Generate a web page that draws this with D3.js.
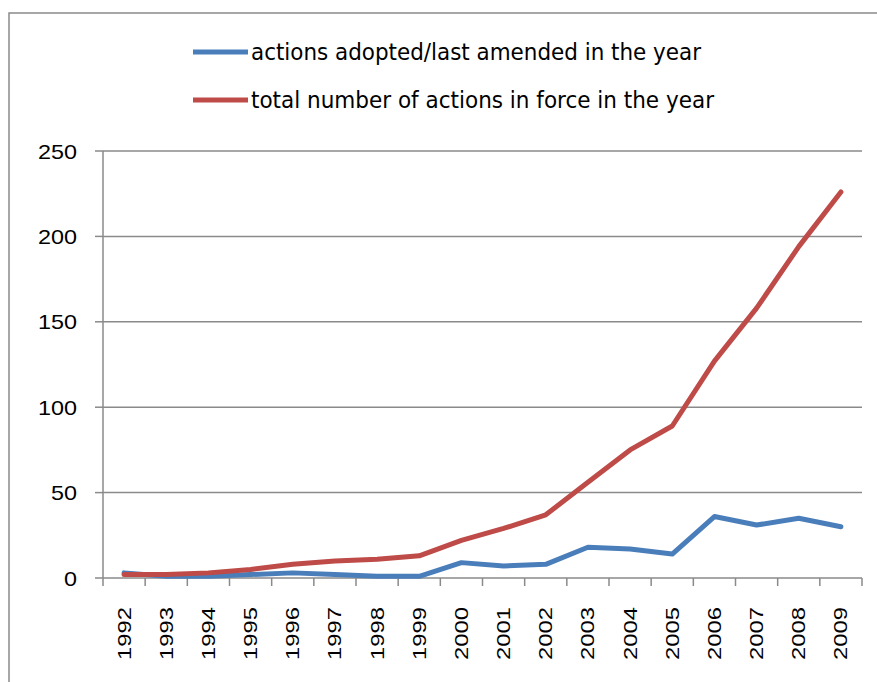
<!DOCTYPE html>
<html>
<head>
<meta charset="utf-8">
<script src="https://cdn.jsdelivr.net/npm/d3@7"></script>
<style>
  body { margin: 0; background: #fff; }
  text { font-family: "Liberation Sans", Arial, sans-serif; fill: #000; }
  .legend text { font-family: "Liberation Sans Narrow", "DejaVu Sans Condensed", "Liberation Sans", sans-serif; }
</style>
</head>
<body>
<svg id="chart" width="877" height="682"></svg>
<script>
// values
var years = ["1992", "1993", "1994", "1995", "1996", "1997", "1998", "1999", "2000",
             "2001", "2002", "2003", "2004", "2005", "2006", "2007", "2008", "2009"];
var adopted = [3, 1, 1, 2, 3, 2, 1, 1, 9, 7, 8, 18, 17, 14, 36, 31, 35, 30];
var inForce = [2, 2, 3, 5, 8, 10, 11, 13, 22, 29, 37, 56, 75, 89, 127, 158, 194, 226];
var yTicks = [0, 50, 100, 150, 200, 250];
var seriesNames = ["actions adopted/last amended in the year",
                   "total number of actions in force in the year"];
var seriesColors = ["#4a7ebb", "#be4b48"];

var svg = d3.select("#chart");
var plotLeft = 103, plotRight = 862, plotTop = 151, plotBottom = 578;

// outer chart border
svg.append("rect")
    .attr("x", 9).attr("y", 13)
    .attr("width", 900).attr("height", 700)
    .attr("fill", "none")
    .attr("stroke", "#8a8a8a")
    .attr("stroke-width", 1.5);

var x = d3.scaleBand().domain(years).range([plotLeft, plotRight]);
var y = d3.scaleLinear().domain([0, 250]).range([plotBottom, plotTop]);

// gridlines
svg.append("g").selectAll("line")
    .data(yTicks.slice(1))
    .enter().append("line")
    .attr("x1", plotLeft).attr("x2", plotRight)
    .attr("y1", function (d) { return y(d); })
    .attr("y2", function (d) { return y(d); })
    .attr("stroke", "#8a8a8a")
    .attr("stroke-width", 1.5);

// y axis
var yAxis = svg.append("g");
yAxis.append("line")
    .attr("x1", plotLeft).attr("x2", plotLeft)
    .attr("y1", plotTop).attr("y2", plotBottom)
    .attr("stroke", "#8a8a8a").attr("stroke-width", 1.5);
yAxis.selectAll("line.tick")
    .data(yTicks)
    .enter().append("line")
    .attr("class", "tick")
    .attr("x1", plotLeft - 8).attr("x2", plotLeft)
    .attr("y1", function (d) { return y(d); })
    .attr("y2", function (d) { return y(d); })
    .attr("stroke", "#8a8a8a").attr("stroke-width", 1.5);
yAxis.selectAll("text")
    .data(yTicks)
    .enter().append("text")
    .attr("x", 77)
    .attr("y", function (d) { return y(d); })
    .attr("dy", "0.36em")
    .attr("text-anchor", "end")
    .attr("font-size", 21)
    .attr("textLength", function (d) { return String(d).length * 13; })
    .attr("lengthAdjust", "spacingAndGlyphs")
    .text(function (d) { return d; });

// x axis
var xAxis = svg.append("g");
xAxis.append("line")
    .attr("x1", plotLeft).attr("x2", plotRight)
    .attr("y1", plotBottom).attr("y2", plotBottom)
    .attr("stroke", "#8a8a8a").attr("stroke-width", 1.5);
var bounds = years.map(function (d) { return x(d); }).concat([plotRight]);
xAxis.selectAll("line.tick")
    .data(bounds)
    .enter().append("line")
    .attr("class", "tick")
    .attr("x1", function (d) { return d; })
    .attr("x2", function (d) { return d; })
    .attr("y1", plotBottom).attr("y2", plotBottom + 8)
    .attr("stroke", "#8a8a8a").attr("stroke-width", 1.5);
xAxis.selectAll("text")
    .data(years)
    .enter().append("text")
    .attr("transform", function (d) {
        return "translate(" + (x(d) + x.bandwidth() / 2) + ",660) rotate(-90)";
    })
    .attr("dy", "0.36em")
    .attr("font-size", 18)
    .attr("textLength", 53)
    .attr("lengthAdjust", "spacingAndGlyphs")
    .text(function (d) { return d; });

// lines
var line = d3.line()
    .x(function (d, i) { return x(years[i]) + x.bandwidth() / 2; })
    .y(function (d) { return y(d); });

[adopted, inForce].forEach(function (s, i) {
    svg.append("path")
        .attr("d", line(s))
        .attr("fill", "none")
        .attr("stroke", seriesColors[i])
        .attr("stroke-width", 5)
        .attr("stroke-linejoin", "round")
        .attr("stroke-linecap", "round");
});

// legend
var legendWidths = [450, 463];
var legend = svg.append("g").attr("class", "legend");
seriesNames.forEach(function (name, i) {
    var ly = 52 + i * 48;
    legend.append("line")
        .attr("x1", 193).attr("x2", 248)
        .attr("y1", ly).attr("y2", ly)
        .attr("stroke", seriesColors[i])
        .attr("stroke-width", 5);
    legend.append("text")
        .attr("x", 251).attr("y", ly)
        .attr("dy", "0.35em")
        .attr("font-size", 23)
        .attr("textLength", legendWidths[i])
        .attr("lengthAdjust", "spacingAndGlyphs")
        .text(name);
});
</script>
</body>
</html>
